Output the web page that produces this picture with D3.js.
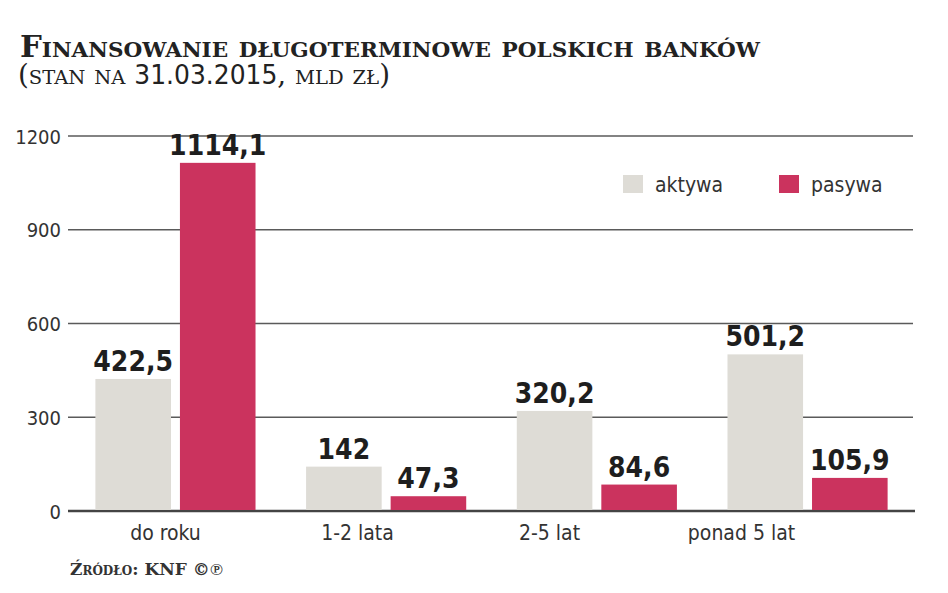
<!DOCTYPE html>
<html>
<head>
<meta charset="utf-8">
<script src="https://cdn.jsdelivr.net/npm/d3@7"></script>
<style>
  body { margin: 0; background: #fff; }
  svg { display: block; }
  .sans { font-family: "DejaVu Sans Condensed", "DejaVu Sans", sans-serif; font-stretch: condensed; }
  .serif { font-family: "DejaVu Serif", serif; }
</style>
</head>
<body>
<svg id="chart" width="948" height="593"></svg>
<script>
// data
var categories = ["do roku", "1-2 lata", "2-5 lat", "ponad 5 lat"]
var series = ["aktywa", "pasywa"]
var aktywa = [422.5, 142, 320.2, 501.2]
var pasywa = [1114.1, 47.3, 84.6, 105.9]
var yTicks = [0, 300, 600, 900, 1200]
var colors = ["#dedcd6", "#cb335e"]

var svg = d3.select("#chart")
var fmt = function(v) { return String(v).replace(".", ",") }

var plotLeft = 68, plotRight = 915, plotTop = 136, plotBottom = 511

var x = d3.scaleBand()
  .domain(categories)
  .range([plotLeft, plotRight])
  .paddingInner(0.24)
  .paddingOuter(0.13)

var xs = d3.scaleBand()
  .domain(series)
  .range([0, x.bandwidth()])
  .paddingInner(0.106)

// category labels sit a bit off the groups in the original
var xLabel = d3.scalePoint()
  .domain(categories)
  .range([165, 741])

var y = d3.scaleLinear()
  .domain([0, 1200])
  .range([plotBottom, plotTop])

var color = d3.scaleOrdinal().domain(series).range(colors)

// title
svg.append("text")
  .attr("class", "serif")
  .attr("x", 20).attr("y", 57)
  .attr("font-weight", "bold")
  .attr("fill", "#222")
  .style("font-variant", "small-caps")
  .attr("font-size", 30)
  .attr("textLength", 740)
  .attr("lengthAdjust", "spacingAndGlyphs")
  .text("Finansowanie długoterminowe polskich banków")

var sub = svg.append("text")
  .attr("x", 18).attr("y", 84)
  .attr("fill", "#222")
  .attr("font-size", 27)
  .attr("textLength", 372)
  .attr("lengthAdjust", "spacingAndGlyphs")
sub.append("tspan").attr("class", "serif").style("font-variant", "small-caps").text("(stan na ")
sub.append("tspan").attr("class", "sans").attr("font-weight", 300).text("31.03.2015")
sub.append("tspan").attr("class", "serif").style("font-variant", "small-caps").text(", mld zł)")

// gridlines
svg.append("g")
  .selectAll("line")
  .data(yTicks.filter(function(d) { return d > 0 }))
  .enter().append("line")
  .attr("x1", plotLeft).attr("x2", plotRight - 2)
  .attr("y1", function(d) { return y(d) }).attr("y2", function(d) { return y(d) })
  .attr("stroke", "#5a5a5a")
  .attr("stroke-width", 1.5)

// y axis labels
var yAxis = svg.append("g")
  .attr("class", "sans")
  .attr("transform", "translate(" + (plotLeft - 7) + ",0)")
  .call(d3.axisLeft(y).tickValues(yTicks).tickSize(0).tickPadding(0).tickFormat(d3.format("d")))
yAxis.select(".domain").remove()
yAxis.selectAll("text")
  .attr("font-size", 20)
  .attr("fill", "#333")
  .attr("font-family", null)
  .attr("dy", "0.36em")

// baseline
svg.append("line")
  .attr("x1", plotLeft).attr("x2", plotRight)
  .attr("y1", y(0)).attr("y2", y(0))
  .attr("stroke", "#444")
  .attr("stroke-width", 2.5)

var rows = categories.map(function(c, i) {
  return { cat: c, values: [
    { key: "aktywa", value: aktywa[i] },
    { key: "pasywa", value: pasywa[i] }
  ] }
})

var group = svg.append("g").selectAll("g")
  .data(rows)
  .enter().append("g")
  .attr("transform", function(d) { return "translate(" + x(d.cat) + ",0)" })

group.selectAll("rect")
  .data(function(d) { return d.values })
  .enter().append("rect")
  .attr("x", function(d) { return xs(d.key) })
  .attr("width", xs.bandwidth())
  .attr("y", function(d) { return y(d.value) })
  .attr("height", function(d) { return y(0) - y(d.value) - 1 })
  .attr("fill", function(d) { return color(d.key) })

group.selectAll("text")
  .data(function(d) { return d.values })
  .enter().append("text")
  .attr("class", "sans")
  .attr("x", function(d) { return xs(d.key) + xs.bandwidth() / 2 })
  .attr("y", function(d) { return y(d.value) - 8 })
  .attr("text-anchor", "middle")
  .attr("font-size", 28)
  .attr("font-weight", "bold")
  .attr("fill", "#1e1e1e")
  .text(function(d) { return fmt(d.value) })

// category axis
var xAxis = svg.append("g")
  .attr("class", "sans")
  .attr("transform", "translate(0," + (plotBottom + 10) + ")")
  .call(d3.axisBottom(xLabel).tickSize(0).tickPadding(0))
xAxis.select(".domain").remove()
xAxis.selectAll("text")
  .attr("font-size", 21)
  .attr("fill", "#333")
  .attr("font-family", null)
  .attr("dy", "0.9em")

// legend
var legend = svg.append("g").selectAll("g")
  .data(series)
  .enter().append("g")
  .attr("transform", function(d, i) { return "translate(" + (623 + i * 156) + ",175)" })
legend.append("rect")
  .attr("width", 20).attr("height", 18)
  .attr("fill", function(d) { return color(d) })
legend.append("text")
  .attr("class", "sans")
  .attr("x", 32).attr("y", 17)
  .attr("font-size", 21)
  .attr("fill", "#333")
  .text(function(d) { return d })

// source
svg.append("text")
  .attr("class", "serif")
  .attr("x", 70).attr("y", 575)
  .attr("font-size", 17)
  .attr("font-weight", "bold")
  .attr("fill", "#333")
  .style("font-variant", "small-caps")
  .text("Źródło: KNF ©℗")
</script>
</body>
</html>
